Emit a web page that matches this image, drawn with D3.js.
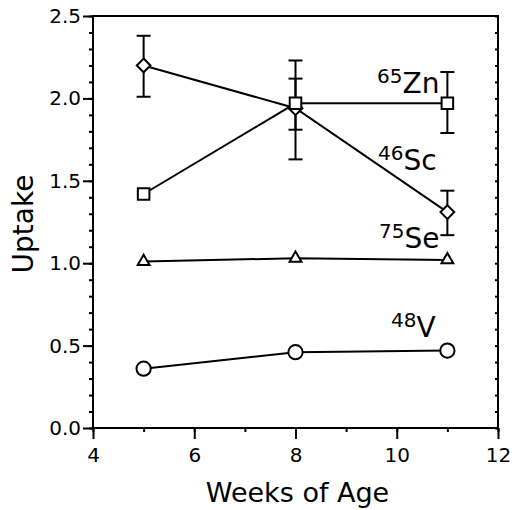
<!DOCTYPE html>
<html><head><meta charset="utf-8">
<script src="https://cdn.jsdelivr.net/npm/d3@7"></script>
<style>body{margin:0;background:#fff}</style>
</head><body>
<svg id="c" width="516" height="510"></svg>
<script>
const weeks = [5, 8, 11];
const zn = [1.42, 1.97, 1.97];
const znHi = [null, 2.23, 2.16];
const znLo = [null, 1.63, 1.79];
const sc = [2.20, 1.94, 1.31];
const scHi = [2.38, 2.12, 1.44];
const scLo = [2.01, 1.81, 1.17];
const se = [1.01, 1.03, 1.02];
const v = [0.36, 0.46, 0.47];
const xTicks = [4, 6, 8, 10, 12];
const yTicks = [0.0, 0.5, 1.0, 1.5, 2.0, 2.5];

const svg = d3.select("#c");
const font = "DejaVu Sans, Verdana, sans-serif";
const L = 93, R = 498, T = 16, B = 428;
const x = d3.scaleLinear().domain([4, 12]).range([L, R]);
const y = d3.scaleLinear().domain([0, 2.5]).range([B, T]);

// frame
svg.append("rect").attr("x", L).attr("y", T).attr("width", R - L).attr("height", B - T)
  .attr("fill", "none").attr("stroke", "#000").attr("stroke-width", 2);

// axes
const yAx = svg.append("g").attr("transform", `translate(${L},0)`)
  .call(d3.axisLeft(y).tickValues(yTicks).tickFormat(d3.format(".1f")).tickSize(10).tickPadding(2));
const yMin = svg.append("g").attr("transform", `translate(${L},0)`)
  .call(d3.axisLeft(y).tickValues(d3.range(0, 2.51, 0.1)).tickFormat("").tickSize(4));
const xAx = svg.append("g").attr("transform", `translate(0,${B})`)
  .call(d3.axisBottom(x).tickValues(xTicks).tickFormat(d3.format("d")).tickSize(11).tickPadding(9));
const xMin = svg.append("g").attr("transform", `translate(0,${B})`)
  .call(d3.axisBottom(x).tickValues(d3.range(4, 12.1, 1)).tickFormat("").tickSize(4));
// mirrored inner ticks on right
const yR = svg.append("g").attr("transform", `translate(${R},0)`)
  .call(d3.axisLeft(y).tickValues(d3.range(0, 2.51, 0.1)).tickFormat("").tickSize(3));
[yAx, yMin, xAx, xMin, yR].forEach(g => {
  g.select(".domain").remove();
  g.selectAll("line").attr("stroke", "#000").attr("stroke-width", 2);
  g.selectAll("text").attr("font-family", font).attr("font-size", 20).attr("fill", "#000");
});

// axis titles
svg.append("text").attr("x", (x(4) + x(12)) / 2 + 2).attr("y", 502).attr("text-anchor", "middle")
  .attr("font-family", font).attr("font-size", 27).text("Weeks of Age");
svg.append("text").attr("transform", `translate(33,${(T + B) / 2 + 2}) rotate(-90)`)
  .attr("text-anchor", "middle").attr("font-family", font).attr("font-size", 28).text("Uptake");

const line = d3.line().x((d, i) => x(weeks[i])).y(d => y(d));
function drawSeries(vals) {
  svg.append("path").datum(vals).attr("d", line).attr("fill", "none")
    .attr("stroke", "#000").attr("stroke-width", 2);
}
function drawErr(hi, lo) {
  weeks.forEach((w, i) => {
    if (hi[i] == null) return;
    const g = svg.append("g").attr("stroke", "#000").attr("stroke-width", 2);
    g.append("line").attr("x1", x(w)).attr("x2", x(w)).attr("y1", y(hi[i])).attr("y2", y(lo[i]));
    [hi[i], lo[i]].forEach(e => g.append("line").attr("x1", x(w) - 7).attr("x2", x(w) + 7)
      .attr("y1", y(e)).attr("y2", y(e)));
  });
}
drawErr(scHi, scLo);
drawErr(znHi, znLo);
drawSeries(sc); drawSeries(zn); drawSeries(se); drawSeries(v);

function markers(vals, type, size) {
  svg.append("g").selectAll("path").data(vals).join("path")
    .attr("transform", (d, i) => `translate(${x(weeks[i])},${y(d)})`)
    .attr("d", d3.symbol().type(type).size(size))
    .attr("fill", "#fff").attr("stroke", "#000").attr("stroke-width", 2);
}
markers(sc, d3.symbolDiamond2, 120);
markers(zn, d3.symbolSquare2, 170);
markers(se, d3.symbolTriangle2, 100);
markers(v, d3.symbolCircle, 160);

// series labels
function label(sup, main, xp, yp) {
  const t = svg.append("text").attr("x", xp).attr("y", yp).attr("font-family", font).attr("fill", "#000");
  t.append("tspan").attr("font-size", 20).attr("dy", -10).text(sup);
  t.append("tspan").attr("font-size", 28).attr("dy", 10).text(main);
}
label("65", "Zn", 377, 93);
label("46", "Sc", 378, 170);
label("75", "Se", 379, 248);
label("48", "V", 391, 337);
</script>
</body></html>
